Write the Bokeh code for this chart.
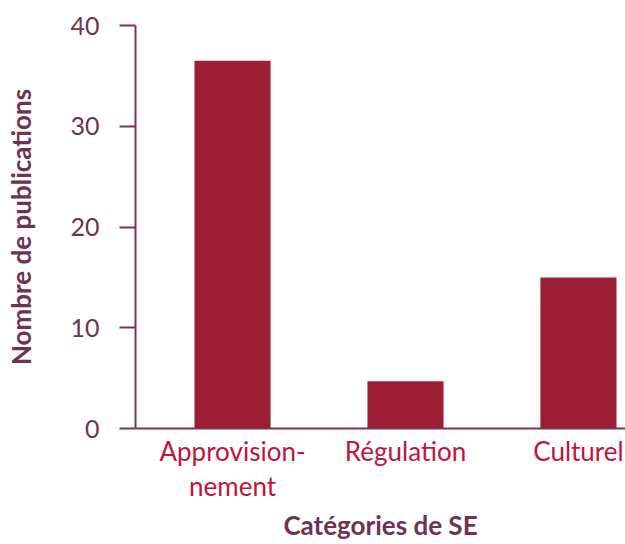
from bokeh.plotting import figure
from bokeh.models import FixedTicker, Range1d, ColumnDataSource
from bokeh.embed import file_html
from bokeh.resources import INLINE

categories = ["Approvision-\nnement", "Régulation", "Culturel"]
positions = [0, 1, 2]
values = [36.5, 4.7, 15.0]
y_ticks = [0, 10, 20, 30, 40]

FONT = "Lato"
BAR = "#9B1E35"
AXIS = "#7A3550"
TICKTXT = "#6E3350"
CATTXT = "#C0143C"

src = ColumnDataSource(dict(x=positions, top=values))

p = figure(width=625, height=544, output_backend="svg", toolbar_location=None,
           x_range=Range1d(-0.561, 2.272), y_range=Range1d(0, 40),
           min_border_left=135, min_border_right=0, min_border_top=25, min_border_bottom=114)

p.vbar(x="x", top="top", width=0.44, source=src, color=BAR, line_color=None)

p.outline_line_color = None
p.xgrid.visible = False
p.ygrid.visible = False

# y axis
ya = p.yaxis[0]
ya.ticker = FixedTicker(ticks=y_ticks)
ya.minor_tick_line_color = None
ya.major_tick_in = 0
ya.major_tick_out = 16
ya.major_tick_line_width = 2
ya.major_tick_line_color = AXIS
ya.axis_line_color = AXIS
ya.axis_line_width = 2
ya.major_label_text_font = FONT
ya.major_label_text_font_size = "25px"
ya.major_label_text_color = TICKTXT
ya.major_label_standoff = 20
ya.axis_label = "Nombre de publications"
ya.axis_label_text_font = FONT
ya.axis_label_text_font_style = "bold"
ya.axis_label_text_font_size = "26px"
ya.axis_label_text_color = TICKTXT
ya.axis_label_standoff = 30

# x axis
xa = p.xaxis[0]
xa.ticker = FixedTicker(ticks=positions)
xa.major_label_overrides = {pos: lab for pos, lab in zip(positions, categories)}
xa.minor_tick_line_color = None
xa.major_tick_in = 0
xa.major_tick_out = 0
xa.axis_line_color = AXIS
xa.axis_line_width = 2
xa.major_label_text_font = FONT
xa.major_label_text_font_size = "26px"
xa.major_label_text_line_height = 1.12
xa.major_label_text_color = CATTXT
xa.major_label_standoff = 6
xa.axis_label = "Catégories de SE"
xa.axis_label_text_font = FONT
xa.axis_label_text_font_style = "bold"
xa.axis_label_text_font_size = "26px"
xa.axis_label_text_line_height = 1.0
xa.axis_label_text_color = TICKTXT
xa.axis_label_standoff = 4

open("out.html", "w").write(file_html(p, INLINE))
